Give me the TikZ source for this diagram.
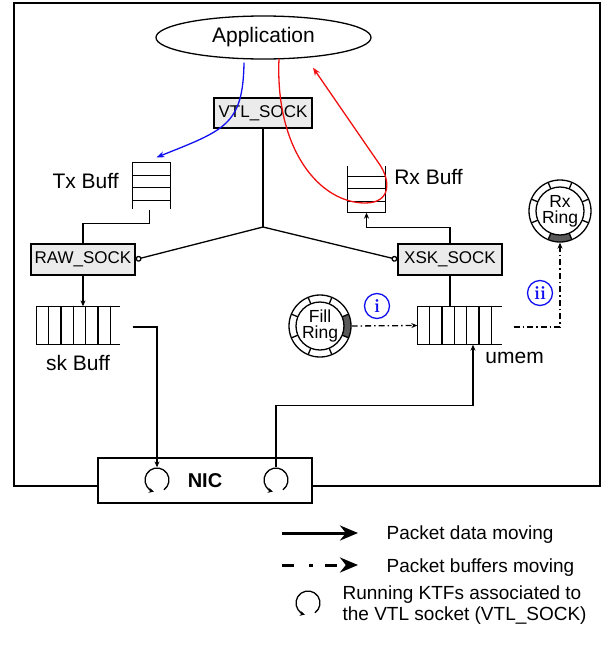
\documentclass[tikz,border=0pt]{standalone}
\usepackage{fontspec}
\setsansfont{Liberation Sans}
\usetikzlibrary{arrows.meta,positioning,shapes.geometric}
\definecolor{sockgray}{HTML}{EBEBEB}
\definecolor{ringgray}{HTML}{5A5A5A}
\definecolor{txblue}{HTML}{1010F0}
\definecolor{rxred}{HTML}{F01010}

\begin{document}
\begin{tikzpicture}[x=1pt,y=1pt,line width=1.3pt,
			sock/.style={draw,fill=sockgray,minimum width=104pt,minimum height=31pt,inner sep=0pt,font=\fontsize{17}{20}\selectfont\sffamily},
			buf/.style={minimum width=37pt,minimum height=45pt,inner sep=0pt},
			queue/.style={minimum width=82pt,minimum height=37pt,inner sep=0pt},
			lbl/.style={inner sep=0pt,font=\fontsize{21}{24}\selectfont\sffamily},
			ring/.style={circle,minimum size=62pt,inner sep=0pt,align=center,font=\fontsize{17.5}{16}\selectfont\sffamily},
			ktf/.style={circle,minimum size=24pt,inner sep=0pt},
			tag/.style={circle,draw=txblue,text=txblue,line width=1.3pt,minimum size=25pt,inner sep=0pt,font=\fontsize{19}{19}\selectfont\bfseries},
			key/.style={inner sep=0pt,font=\fontsize{19}{21}\selectfont\sffamily},
			flow/.style={-{Stealth[length=6pt,width=5pt]}},
			bufflow/.style={-{Stealth[length=6pt,width=5pt]},dash pattern=on 6pt off 3pt on 1.5pt off 3pt}
			]
			\useasboundingbox (0,0) rectangle (608,-646);
			\draw (14,-3) rectangle (600,-486);
			\node[ellipse,draw,minimum width=215pt,minimum height=43pt,inner sep=0pt,font=\fontsize{21}{24}\selectfont\sffamily] (app) at (263.5,-37.5) {Application};
			\node[sock,minimum width=98pt,minimum height=30pt] (vtl) at (263,-113) {VTL\_SOCK};
			\coordinate (hub) at (263,-227);
			\node[sock] (raw) at (83,-259.5) {RAW\_SOCK};
			\node[sock] (xsk) at (450,-259.5) {XSK\_SOCK};
			\node[buf] (txbuf) at (151.5,-185.5) {};
			\node[buf] (rxbuf) at (366.5,-189.5) {};
			\node[queue] (skbuf) at (78,-325.5) {};
			\node[queue,minimum width=83pt] (umem) at (459.5,-325.5) {};
			\node[lbl,anchor=east] (txlbl) at ([xshift=-13pt,yshift=5pt]txbuf.west) {Tx Buff};
			\node[lbl,anchor=west] (rxlbl) at ([xshift=8pt,yshift=12.5pt]rxbuf.east) {Rx Buff};
			\node[lbl,below=10pt of skbuf] (sklbl) {sk Buff};
			\node[lbl] (umemlbl) at ([xshift=13pt,yshift=-13pt]umem.south east) {umem};
			\node[ring] (fillring) at (320,-326) {Fill\\Ring};
			\node[ring] (rxring) at (560,-211) {Rx\\Ring};
			\node[draw,fill=white,minimum width=214pt,minimum height=45pt,inner sep=0pt,font=\fontsize{20}{24}\selectfont\sffamily\bfseries] (nic) at (205,-480.5) {NIC};
			\node[ktf] (ktfl) at (157,-480) {};
			\node[ktf] (ktfr) at (276,-480) {};
			\node[ktf] (ktfkey) at (308,-603) {};
			\node[tag] (tagi) at (377,-306) {i};
			\node[tag] (tagii) at (540,-293) {ii};

			\draw (txbuf.south west) -- (txbuf.north west) -- (txbuf.north east) -- (txbuf.south east);
			\foreach \d in {13pt,25pt,38pt}
				\draw ([yshift=-\d]txbuf.north west) -- ([yshift=-\d]txbuf.north east);
			\draw (rxbuf.north west) -- (rxbuf.south west) -- (rxbuf.south east) -- (rxbuf.north east);
			\foreach \d in {11pt,24pt,36pt}
				\draw ([yshift=\d]rxbuf.south west) -- ([yshift=\d]rxbuf.south east);
			\foreach \q in {skbuf,umem}{
				\draw (\q.north east) -- (\q.north west) -- (\q.south west) -- (\q.south east);
				\foreach \k in {1,...,6}
					\draw ([xshift=12.3*\k]\q.north west) -- ([xshift=12.3*\k]\q.south west);
			}
			\foreach \r/\a in {fillring/0,rxring/270}{
				\fill[ringgray] ([shift={(\a-22.5:24pt)}]\r.center) arc[start angle=\a-22.5,end angle=\a+22.5,radius=24pt]
					-- ([shift={(\a+22.5:31pt)}]\r.center) arc[start angle=\a+22.5,end angle=\a-22.5,radius=31pt] -- cycle;
				\draw (\r.center) circle[radius=31pt] (\r.center) circle[radius=24pt];
				\foreach \k in {0,...,7}
					\draw ([shift={(\a+22.5+45*\k:24pt)}]\r.center) -- ([shift={(\a+22.5+45*\k:31pt)}]\r.center);
			}
			\foreach \n in {ktfl,ktfr,ktfkey}
				\draw[-{Stealth[length=5pt,width=5pt]}] ([shift={(-55:12pt)}]\n.center) arc[start angle=-55,end angle=255,radius=12pt];

			\draw (vtl) -- (hub);
			\draw[-{Circle[open,length=6pt]}] (hub) -- (raw.east);
			\draw[-{Circle[open,length=6pt]}] (hub) -- (xsk.west);
			\draw ([xshift=-2pt,yshift=-1pt]txbuf.south) -- ++(0,-14) -| (raw.north);
			\draw[flow] (raw.south) -- (raw.south |- skbuf.north);
			\draw[flow] ([xshift=13pt,yshift=-1.5pt]skbuf.east) -| (ktfl.north);
			\draw[flow] (ktfr.north) -- ++(0,62) -| ([xshift=13.5pt]umem.south);
			\draw[flow] (xsk.north) -- ++(0,16) -| (rxbuf.south);
			\draw (xsk.south) -- (xsk.south |- umem.north);
			\draw[bufflow] (fillring.east) -- (umem.west);
			\draw[bufflow] ([xshift=12pt,yshift=-1.5pt]umem.east) -| (rxring.south);
			\draw[txblue,line width=1.3pt,-{Stealth[length=8pt,width=6pt]}] ([xshift=-19.5pt,yshift=-3pt]app.south)
				.. controls (243,-125) and (225,-130) .. ([xshift=5pt,yshift=5pt]txbuf.north);
			\draw[rxred,line width=1.3pt,-{Stealth[length=8pt,width=6pt]}] ([xshift=15.5pt,yshift=1pt]app.south)
				.. controls (275,-150) and (320,-203) .. (365,-203)
				.. controls (392,-203) and (390,-180) .. (380,-165) -- ([xshift=49.5pt,yshift=-8pt]app.south);

			\coordinate (keya) at (282,-533);
			\coordinate (keyb) at (358,-533);
			\coordinate (keyc) at (282,-565);
			\coordinate (keyd) at (358,-565);
			\draw[line width=3pt,-{Stealth[length=18pt,width=15pt]}] (keya) -- (keyb);
			\draw[line width=3pt,dash pattern=on 12pt off 15pt on 4pt off 12pt,-{Stealth[length=18pt,width=15pt]}] (keyc) -- (keyd);
			\node[key,anchor=base west] (keydata) at (386,-539) {Packet data moving};
			\node[key,anchor=base west] (keybufs) at (386,-572) {Packet buffers moving};
			\node[key,anchor=west,align=left] (keyktf) at (342,-605) {Running KTFs associated to\\the VTL socket (VTL\_SOCK)};
		\end{tikzpicture}
\end{document}
